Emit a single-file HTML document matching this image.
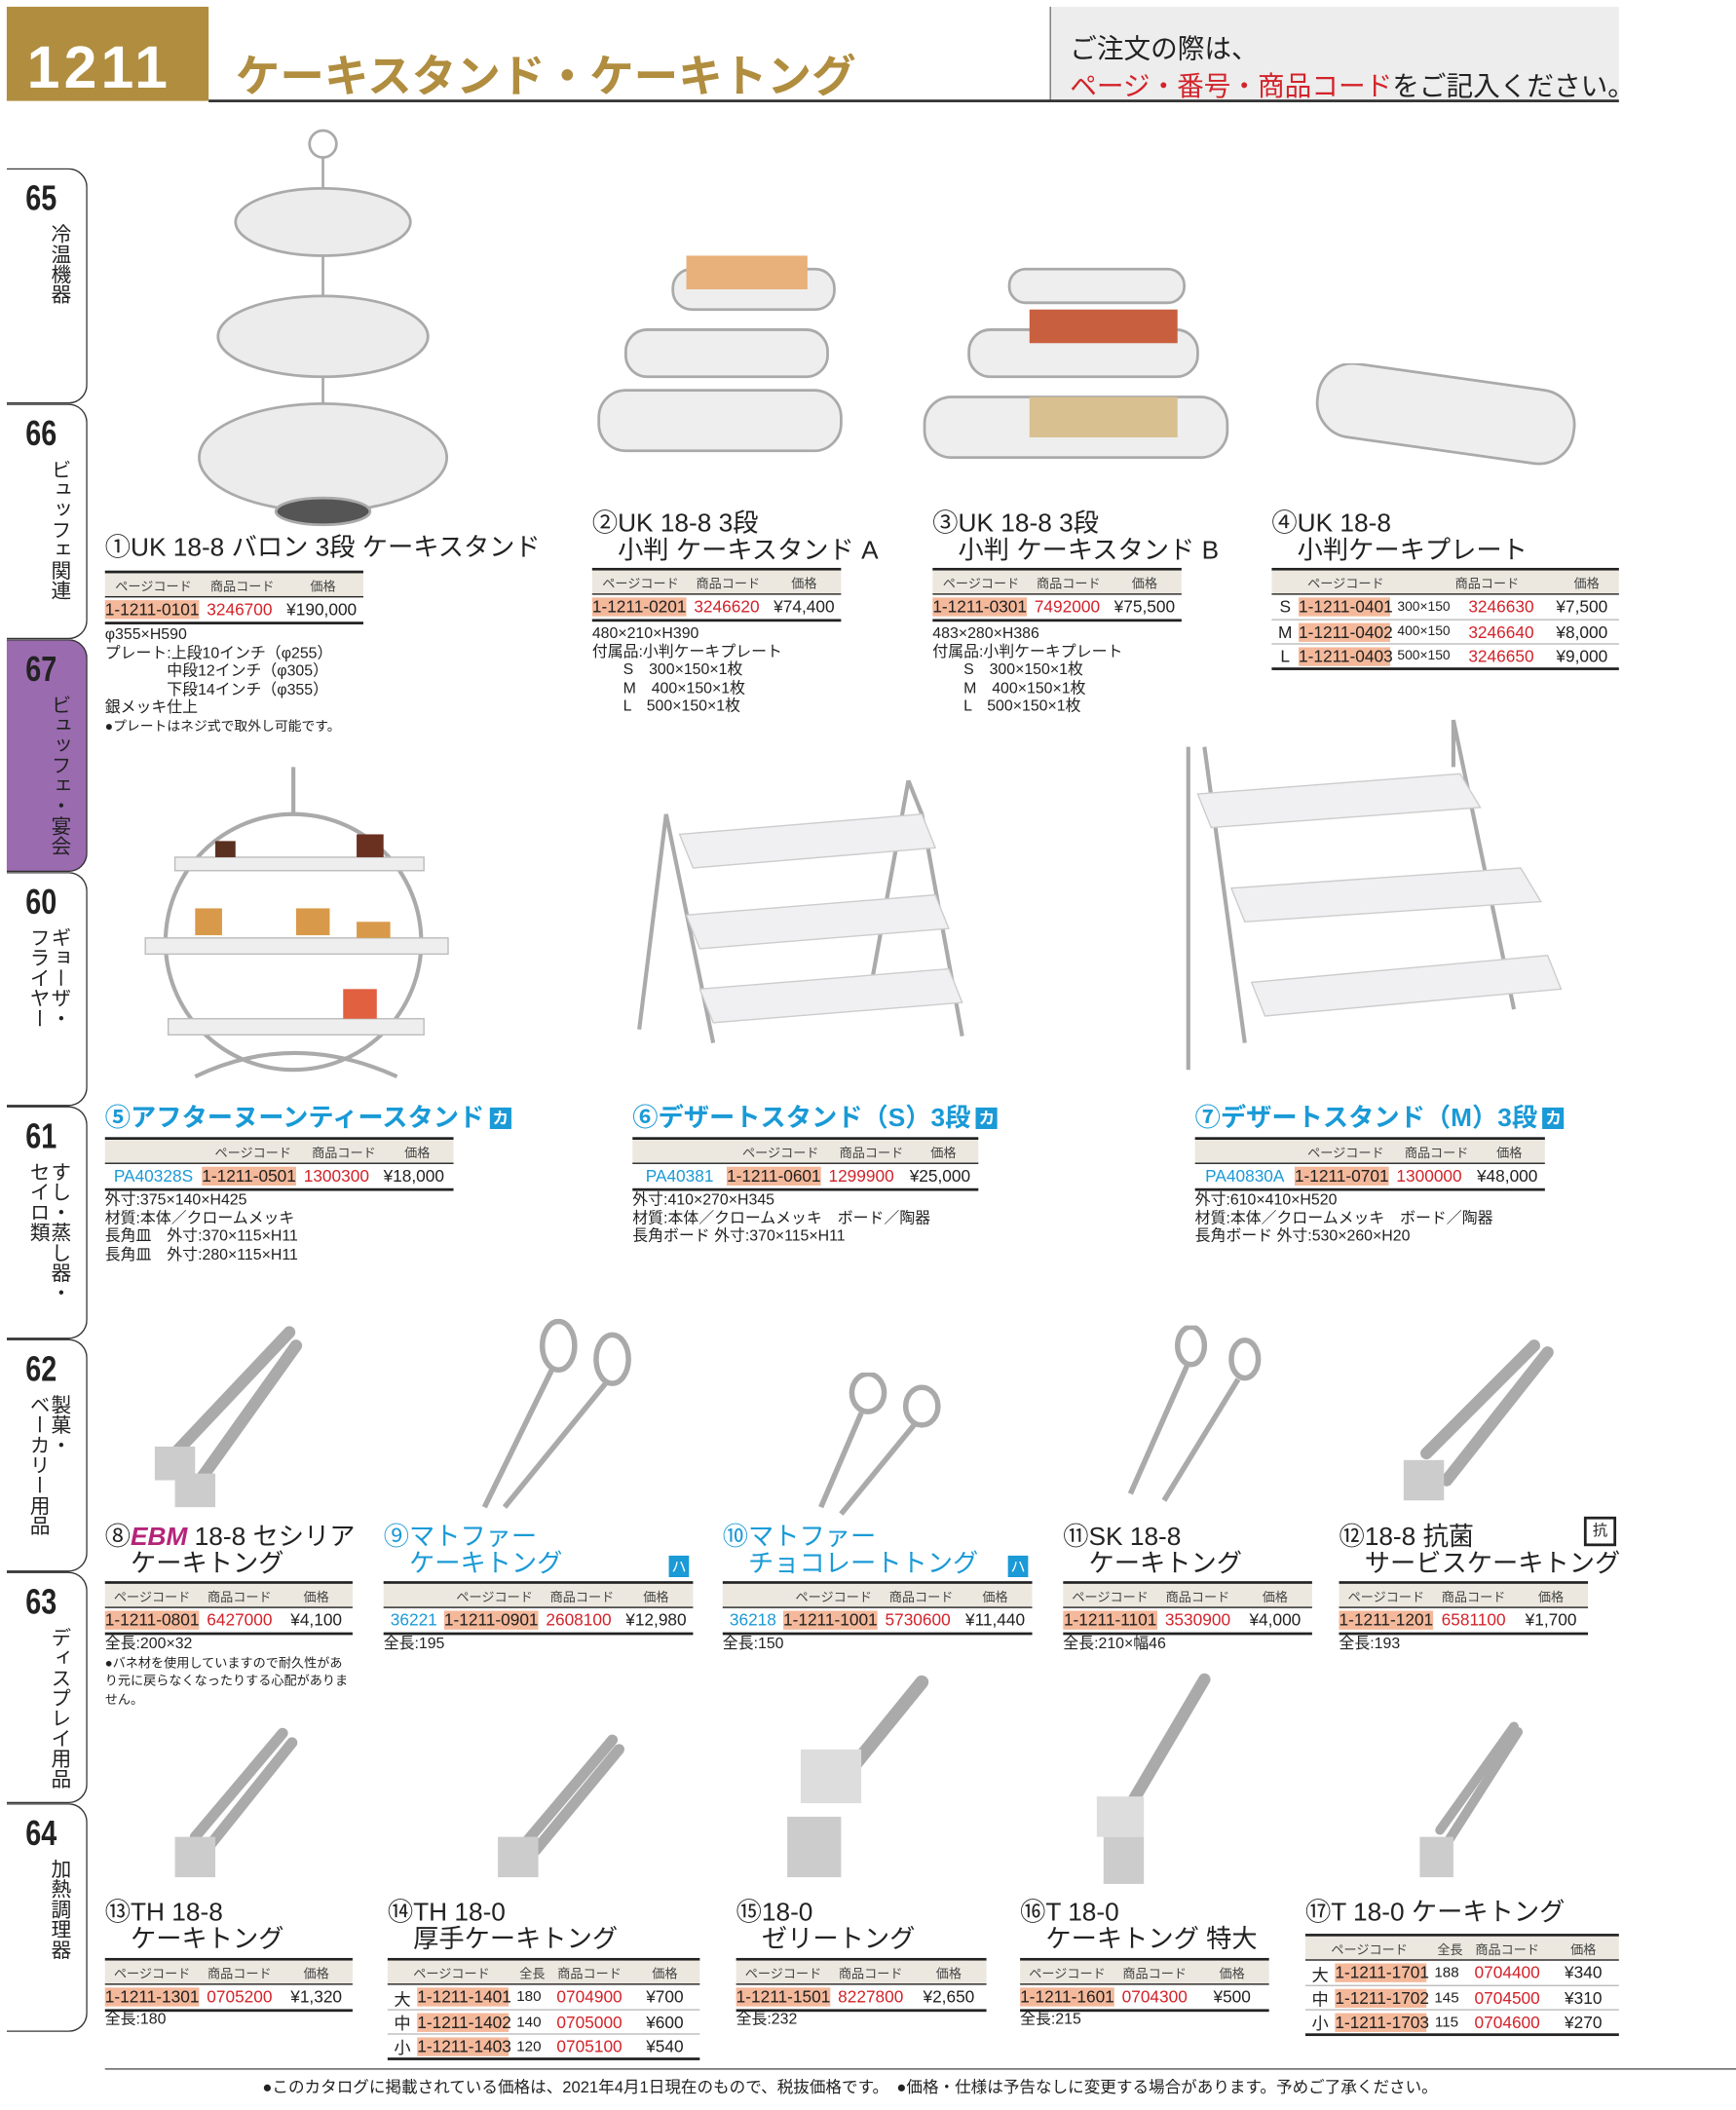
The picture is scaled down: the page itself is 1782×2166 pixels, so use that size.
<!DOCTYPE html>
<html><head><meta charset="utf-8">
<style>
*{margin:0;padding:0;box-sizing:border-box}
html,body{width:1782px;height:2166px;overflow:hidden;background:#fff}
#w{position:absolute;left:0;top:0;width:1290px;height:1568px;transform:scale(1.3814);transform-origin:0 0;font-family:"Liberation Sans","Noto Sans CJK JP",sans-serif;color:#222}
.a{position:absolute;white-space:nowrap}
.tab{position:absolute;left:5px;width:60px;border:1.5px solid #333;border-left:none;border-radius:0 14px 14px 0;background:#fff}
.tab b{position:absolute;left:14px;top:6px;font-size:26px;font-weight:bold;transform:scaleX(.8);transform-origin:0 0}
.tab i{position:absolute;right:12px;top:40px;font-style:normal;font-size:15px;writing-mode:vertical-rl;line-height:1.05;white-space:nowrap}
.tt{position:absolute;font-size:19px;white-space:nowrap;line-height:20px}
.bl{color:#1a9ad6;font-weight:bold}
.tb{position:absolute;border-top:2px solid #222;border-bottom:2px solid #222;font-size:12.5px}
.hd{background:#ece8df;height:18px;display:flex;font-size:9.5px;color:#444;align-items:center;border-bottom:1.5px solid #222}
.rw{height:18px;display:flex;align-items:center;white-space:nowrap}
.rw+.rw{border-top:1px solid #bbb}
.rw span,.hd span{display:block;text-align:center}
.pc{background:#f4b89a}
.red{color:#d2232a}
.blu{color:#1a9ad6}
.sp{position:absolute;font-size:11.5px;line-height:13.5px;white-space:pre}
.ka{display:inline-block;background:#1a9ad6;color:#fff;font-size:12px;padding:0 2px;line-height:16px;vertical-align:2px;margin-left:4px}
svg{position:absolute}
</style></head><body><div id="w">

<div class="a" style="left:5px;top:5px;width:150px;height:70px;background:#b08d3f"></div>
<div class="a" style="left:20px;top:26px;font-size:44px;font-weight:bold;color:#fff;letter-spacing:3px">1211</div>
<div class="a" style="left:175px;top:30px;font-size:33px;font-weight:bold;color:#b08d3f">ケーキスタンド・ケーキトング</div>
<div class="a" style="left:780px;top:5px;width:423px;height:70px;background:#ededed;border-left:1px solid #777"></div>
<div class="a" style="left:795px;top:20px;font-size:20px">ご注文の際は、</div>
<div class="a" style="left:795px;top:48px;font-size:20px"><span class="red">ページ・番号・商品コード</span>をご記入ください。</div>
<div class="a" style="left:155px;top:74px;width:1048px;height:2px;background:#333"></div>

<div class="tab" style="top:125px;height:175px"><b>65</b><i>冷温機器</i></div>
<div class="tab" style="top:300px;height:175px"><b>66</b><i>ビュッフェ関連</i></div>
<div class="tab" style="top:475px;height:173px;background:#9b6bb0"><b>67</b><i>ビュッフェ・宴会</i></div>
<div class="tab" style="top:648px;height:174px"><b>60</b><i>ギョーザ・<br>フライヤー</i></div>
<div class="tab" style="top:822px;height:173px"><b>61</b><i>すし・蒸し器・<br>セイロ類</i></div>
<div class="tab" style="top:995px;height:173px"><b>62</b><i>製菓・<br>ベーカリー用品</i></div>
<div class="tab" style="top:1168px;height:172px"><b>63</b><i>ディスプレイ用品</i></div>
<div class="tab" style="top:1340px;height:170px"><b>64</b><i>加熱調理器</i></div>

<!-- images row1 -->
<svg style="left:140px;top:95px" width="200" height="300"><g fill="#ececec" stroke="#aaa" stroke-width="2"><circle cx="100" cy="12" r="10" fill="none"/><line x1="100" y1="22" x2="100" y2="280"/><ellipse cx="100" cy="70" rx="65" ry="25"/><ellipse cx="100" cy="155" rx="78" ry="30"/><ellipse cx="100" cy="245" rx="92" ry="40"/><ellipse cx="100" cy="285" rx="35" ry="10" fill="#555"/></g></svg>
<svg style="left:440px;top:150px" width="190" height="215"><g fill="#eee" stroke="#aaa" stroke-width="2"><rect x="60" y="50" width="120" height="30" rx="14"/><rect x="25" y="95" width="150" height="35" rx="16"/><rect x="5" y="140" width="180" height="45" rx="20"/><rect x="70" y="40" width="90" height="25" fill="#e8b07a" stroke="none"/></g></svg>
<svg style="left:685px;top:150px" width="230" height="215"><g fill="#eee" stroke="#aaa" stroke-width="2"><rect x="65" y="50" width="130" height="25" rx="12"/><rect x="35" y="95" width="170" height="35" rx="16"/><rect x="2" y="145" width="225" height="45" rx="20"/><rect x="80" y="80" width="110" height="25" fill="#c86040" stroke="none"/><rect x="80" y="145" width="110" height="30" fill="#d8c090" stroke="none"/></g></svg>
<svg style="left:975px;top:270px" width="200" height="95"><rect x="3" y="10" width="192" height="55" rx="26" fill="#eee" stroke="#aaa" stroke-width="2" transform="rotate(8 100 40)"/></svg>

<div class="tt" style="left:78px;top:398px">①UK 18-8 バロン 3段 ケーキスタンド</div>
<div class="tb" style="left:78px;top:424px;width:192px"><div class="hd"><span style="width:72px">ページコード</span><span style="width:60px">商品コード</span><span style="width:60px">価格</span></div><div class="rw"><span class="pc" style="width:70px">1-1211-0101</span><span class="red" style="width:60px">3246700</span><span style="width:62px">¥190,000</span></div></div>
<div class="sp" style="left:78px;top:466px">φ355×H590
プレート:上段10インチ（φ255）
　　　　中段12インチ（φ305）
　　　　下段14インチ（φ355）
銀メッキ仕上
<span style="font-size:10px">●プレートはネジ式で取外し可能です。</span></div>

<div class="tt" style="left:440px;top:380px">②UK 18-8 3段<br>　小判 ケーキスタンド A</div>
<div class="tb" style="left:440px;top:422px;width:185px"><div class="hd"><span style="width:72px">ページコード</span><span style="width:58px">商品コード</span><span style="width:55px">価格</span></div><div class="rw"><span class="pc" style="width:70px">1-1211-0201</span><span class="red" style="width:60px">3246620</span><span style="width:55px">¥74,400</span></div></div>
<div class="sp" style="left:440px;top:465px">480×210×H390
付属品:小判ケーキプレート
　　S　300×150×1枚
　　M　400×150×1枚
　　L　500×150×1枚</div>

<div class="tt" style="left:693px;top:380px">③UK 18-8 3段<br>　小判 ケーキスタンド B</div>
<div class="tb" style="left:693px;top:422px;width:185px"><div class="hd"><span style="width:72px">ページコード</span><span style="width:58px">商品コード</span><span style="width:55px">価格</span></div><div class="rw"><span class="pc" style="width:70px">1-1211-0301</span><span class="red" style="width:60px">7492000</span><span style="width:55px">¥75,500</span></div></div>
<div class="sp" style="left:693px;top:465px">483×280×H386
付属品:小判ケーキプレート
　　S　300×150×1枚
　　M　400×150×1枚
　　L　500×150×1枚</div>

<div class="tt" style="left:945px;top:380px">④UK 18-8<br>　小判ケーキプレート</div>
<div class="tb" style="left:945px;top:422px;width:258px"><div class="hd"><span style="width:110px">ページコード</span><span style="width:100px">商品コード</span><span style="width:48px">価格</span></div>
<div class="rw"><span style="width:20px">S</span><span class="pc" style="width:68px">1-1211-0401</span><span style="width:50px;font-size:10px">300×150</span><span class="red" style="width:65px">3246630</span><span style="width:55px">¥7,500</span></div>
<div class="rw"><span style="width:20px">M</span><span class="pc" style="width:68px">1-1211-0402</span><span style="width:50px;font-size:10px">400×150</span><span class="red" style="width:65px">3246640</span><span style="width:55px">¥8,000</span></div>
<div class="rw"><span style="width:20px">L</span><span class="pc" style="width:68px">1-1211-0403</span><span style="width:50px;font-size:10px">500×150</span><span class="red" style="width:65px">3246650</span><span style="width:55px">¥9,000</span></div></div>

<!-- row2 images -->
<svg style="left:105px;top:565px" width="230" height="245"><g fill="none" stroke="#aaa" stroke-width="3"><circle cx="113" cy="135" r="95"/><path d="M113 5 V40"/><path d="M40 235 Q113 200 190 235"/></g><g fill="#eee" stroke="#bbb"><rect x="25" y="72" width="185" height="10"/><rect x="3" y="132" width="225" height="12"/><rect x="20" y="192" width="190" height="12"/></g><g fill="#d89a4a"><rect x="40" y="110" width="20" height="20"/><rect x="115" y="110" width="25" height="20"/><rect x="160" y="120" width="25" height="12"/><rect x="55" y="60" width="15" height="12" fill="#5a3020"/><rect x="160" y="55" width="20" height="17" fill="#6a3020"/><rect x="150" y="170" width="25" height="22" fill="#e06040"/></g></svg>
<svg style="left:470px;top:575px" width="255" height="230"><g fill="none" stroke="#aaa" stroke-width="3"><path d="M25 30 L5 190 M25 30 L60 200 M205 5 L215 30 L245 195 M205 5 L175 170"/></g><g fill="#f0f0f2" stroke="#ccc"><path d="M35 45 L215 30 L225 55 L45 70Z"/><path d="M40 105 L225 90 L235 115 L50 130Z"/><path d="M50 160 L235 145 L245 170 L60 185Z"/></g></svg>
<svg style="left:875px;top:530px" width="290" height="280"><g fill="none" stroke="#aaa" stroke-width="3"><path d="M8 25 V265 M20 25 L50 245 M205 5 L250 220 M205 5 V40"/></g><g fill="#f0f0f2" stroke="#ccc"><path d="M15 60 L210 45 L225 70 L25 85Z"/><path d="M40 130 L255 115 L270 140 L50 155Z"/><path d="M55 200 L275 180 L285 205 L65 225Z"/></g></svg>

<div class="tt bl" style="left:78px;top:822px">⑤アフターヌーンティースタンド<span class="ka">カ</span></div>
<div class="tb" style="left:78px;top:845px;width:259px"><div class="hd"><span style="width:70px"></span><span style="width:80px">ページコード</span><span style="width:55px">商品コード</span><span style="width:54px">価格</span></div><div class="rw"><span class="blu" style="width:72px">PA40328S</span><span class="pc" style="width:70px">1-1211-0501</span><span class="red" style="width:60px">1300300</span><span style="width:55px">¥18,000</span></div></div>
<div class="sp" style="left:78px;top:886px">外寸:375×140×H425
材質:本体／クロームメッキ
長角皿　外寸:370×115×H11
長角皿　外寸:280×115×H11</div>

<div class="tt bl" style="left:470px;top:822px">⑥デザートスタンド（S）3段<span class="ka">カ</span></div>
<div class="tb" style="left:470px;top:845px;width:257px"><div class="hd"><span style="width:70px"></span><span style="width:80px">ページコード</span><span style="width:55px">商品コード</span><span style="width:52px">価格</span></div><div class="rw"><span class="blu" style="width:70px">PA40381</span><span class="pc" style="width:70px">1-1211-0601</span><span class="red" style="width:60px">1299900</span><span style="width:57px">¥25,000</span></div></div>
<div class="sp" style="left:470px;top:886px">外寸:410×270×H345
材質:本体／クロームメッキ　ボード／陶器
長角ボード 外寸:370×115×H11</div>

<div class="tt bl" style="left:888px;top:822px">⑦デザートスタンド（M）3段<span class="ka">カ</span></div>
<div class="tb" style="left:888px;top:845px;width:260px"><div class="hd"><span style="width:72px"></span><span style="width:80px">ページコード</span><span style="width:55px">商品コード</span><span style="width:53px">価格</span></div><div class="rw"><span class="blu" style="width:74px">PA40830A</span><span class="pc" style="width:70px">1-1211-0701</span><span class="red" style="width:60px">1300000</span><span style="width:56px">¥48,000</span></div></div>
<div class="sp" style="left:888px;top:886px">外寸:610×410×H520
材質:本体／クロームメッキ　ボード／陶器
長角ボード 外寸:530×260×H20</div>

<!-- tongs row3 -->
<svg style="left:110px;top:980px" width="125" height="150"><g stroke="#aaa" stroke-width="9" stroke-linecap="round"><line x1="105" y1="10" x2="20" y2="100"/><line x1="110" y1="20" x2="35" y2="125"/></g><rect x="5" y="95" width="30" height="25" fill="#ccc"/><rect x="20" y="115" width="30" height="25" fill="#ccc"/></svg>
<svg style="left:320px;top:980px" width="160" height="150"><g fill="none" stroke="#aaa" stroke-width="4"><ellipse cx="95" cy="20" rx="12" ry="18"/><ellipse cx="135" cy="30" rx="12" ry="18"/><path d="M90 38 L40 140 M130 48 L55 140"/></g></svg>
<svg style="left:600px;top:1020px" width="110" height="110"><g fill="none" stroke="#aaa" stroke-width="4"><ellipse cx="45" cy="15" rx="12" ry="14"/><ellipse cx="85" cy="25" rx="12" ry="14"/><path d="M40 30 L10 100 M80 38 L25 105"/></g></svg>
<svg style="left:825px;top:985px" width="120" height="145"><g fill="none" stroke="#aaa" stroke-width="4"><ellipse cx="60" cy="15" rx="10" ry="14"/><ellipse cx="100" cy="25" rx="10" ry="14"/><path d="M57 30 L15 125 M95 40 L40 130"/></g></svg>
<svg style="left:1035px;top:990px" width="125" height="135"><g stroke="#aaa" stroke-width="9" stroke-linecap="round"><line x1="105" y1="10" x2="25" y2="90"/><line x1="115" y1="15" x2="40" y2="110"/></g><rect x="8" y="95" width="30" height="30" fill="#ccc"/></svg>

<div class="tt" style="left:78px;top:1133px">⑧<i style="color:#b5247a;font-weight:bold">EBM</i> 18-8 セシリア<br>　ケーキトング</div>
<div class="tt" style="left:285px;top:1133px;color:#1a9ad6">⑨マトファー<br>　ケーキトング</div><div class="a" style="left:497px;top:1156px;background:#1a9ad6;color:#fff;font-size:11px;padding:0 2px">ハ</div>
<div class="tt" style="left:537px;top:1133px;color:#1a9ad6">⑩マトファー<br>　チョコレートトング</div><div class="a" style="left:749px;top:1156px;background:#1a9ad6;color:#fff;font-size:11px;padding:0 2px">ハ</div>
<div class="tt" style="left:790px;top:1133px">⑪SK 18-8<br>　ケーキトング</div>
<div class="tt" style="left:995px;top:1133px">⑫18-8 抗菌<br>　サービスケーキトング</div>
<div class="a" style="left:1177px;top:1127px;width:24px;height:22px;border:2px solid #222;font-size:11px;text-align:center">抗</div>

<div class="tb" style="left:78px;top:1175px;width:184px"><div class="hd"><span style="width:70px">ページコード</span><span style="width:60px">商品コード</span><span style="width:54px">価格</span></div><div class="rw"><span class="pc" style="width:70px">1-1211-0801</span><span class="red" style="width:60px">6427000</span><span style="width:54px">¥4,100</span></div></div>
<div class="sp" style="left:78px;top:1216px">全長:200×32
<span style="font-size:9.5px;line-height:12px">●バネ材を使用していますので耐久性があ
り元に戻らなくなったりする心配がありま
せん。</span></div>
<div class="tb" style="left:285px;top:1175px;width:230px"><div class="hd"><span style="width:45px"></span><span style="width:75px">ページコード</span><span style="width:55px">商品コード</span><span style="width:55px">価格</span></div><div class="rw"><span class="blu" style="width:45px">36221</span><span class="pc" style="width:70px">1-1211-0901</span><span class="red" style="width:60px">2608100</span><span style="width:55px">¥12,980</span></div></div>
<div class="sp" style="left:285px;top:1216px">全長:195</div>
<div class="tb" style="left:537px;top:1175px;width:230px"><div class="hd"><span style="width:45px"></span><span style="width:75px">ページコード</span><span style="width:55px">商品コード</span><span style="width:55px">価格</span></div><div class="rw"><span class="blu" style="width:45px">36218</span><span class="pc" style="width:70px">1-1211-1001</span><span class="red" style="width:60px">5730600</span><span style="width:55px">¥11,440</span></div></div>
<div class="sp" style="left:537px;top:1216px">全長:150</div>
<div class="tb" style="left:790px;top:1175px;width:185px"><div class="hd"><span style="width:70px">ページコード</span><span style="width:60px">商品コード</span><span style="width:55px">価格</span></div><div class="rw"><span class="pc" style="width:70px">1-1211-1101</span><span class="red" style="width:60px">3530900</span><span style="width:55px">¥4,000</span></div></div>
<div class="sp" style="left:790px;top:1216px">全長:210×幅46</div>
<div class="tb" style="left:995px;top:1175px;width:185px"><div class="hd"><span style="width:70px">ページコード</span><span style="width:60px">商品コード</span><span style="width:55px">価格</span></div><div class="rw"><span class="pc" style="width:70px">1-1211-1201</span><span class="red" style="width:60px">6581100</span><span style="width:55px">¥1,700</span></div></div>
<div class="sp" style="left:995px;top:1216px">全長:193</div>

<!-- row4 tongs -->
<svg style="left:115px;top:1280px" width="110" height="125"><g stroke="#aaa" stroke-width="8" stroke-linecap="round"><line x1="95" y1="8" x2="30" y2="85"/><line x1="102" y1="15" x2="38" y2="95"/></g><rect x="15" y="85" width="30" height="30" fill="#ccc"/></svg>
<svg style="left:360px;top:1285px" width="110" height="120"><g stroke="#aaa" stroke-width="8" stroke-linecap="round"><line x1="95" y1="8" x2="30" y2="85"/><line x1="100" y1="15" x2="38" y2="90"/></g><rect x="10" y="80" width="30" height="30" fill="#ccc"/></svg>
<svg style="left:580px;top:1240px" width="120" height="165"><g stroke="#aaa" stroke-width="10" stroke-linecap="round"><line x1="105" y1="10" x2="40" y2="90"/></g><rect x="15" y="60" width="45" height="40" fill="#ddd"/><rect x="5" y="110" width="40" height="45" fill="#ccc"/></svg>
<svg style="left:800px;top:1240px" width="110" height="165"><g stroke="#aaa" stroke-width="9" stroke-linecap="round"><line x1="95" y1="8" x2="35" y2="110"/></g><rect x="15" y="95" width="35" height="30" fill="#ddd"/><rect x="20" y="125" width="30" height="35" fill="#ccc"/></svg>
<svg style="left:1040px;top:1275px" width="95" height="130"><g stroke="#aaa" stroke-width="7" stroke-linecap="round"><line x1="85" y1="8" x2="30" y2="85"/><line x1="88" y1="12" x2="35" y2="95"/></g><rect x="15" y="90" width="25" height="30" fill="#ccc"/></svg>

<div class="tt" style="left:78px;top:1412px">⑬TH 18-8<br>　ケーキトング</div>
<div class="tt" style="left:288px;top:1412px">⑭TH 18-0<br>　厚手ケーキトング</div>
<div class="tt" style="left:547px;top:1412px">⑮18-0<br>　ゼリートング</div>
<div class="tt" style="left:758px;top:1412px">⑯T 18-0<br>　ケーキトング 特大</div>
<div class="tt" style="left:970px;top:1412px">⑰T 18-0 ケーキトング</div>

<div class="tb" style="left:78px;top:1455px;width:184px"><div class="hd"><span style="width:70px">ページコード</span><span style="width:60px">商品コード</span><span style="width:54px">価格</span></div><div class="rw"><span class="pc" style="width:70px">1-1211-1301</span><span class="red" style="width:60px">0705200</span><span style="width:54px">¥1,320</span></div></div>
<div class="sp" style="left:78px;top:1495px">全長:180</div>

<div class="tb" style="left:288px;top:1455px;width:232px"><div class="hd"><span style="width:95px">ページコード</span><span style="width:25px">全長</span><span style="width:60px">商品コード</span><span style="width:52px">価格</span></div>
<div class="rw"><span style="width:22px">大</span><span class="pc" style="width:68px">1-1211-1401</span><span style="width:30px;font-size:11px">180</span><span class="red" style="width:60px">0704900</span><span style="width:52px">¥700</span></div>
<div class="rw"><span style="width:22px">中</span><span class="pc" style="width:68px">1-1211-1402</span><span style="width:30px;font-size:11px">140</span><span class="red" style="width:60px">0705000</span><span style="width:52px">¥600</span></div>
<div class="rw"><span style="width:22px">小</span><span class="pc" style="width:68px">1-1211-1403</span><span style="width:30px;font-size:11px">120</span><span class="red" style="width:60px">0705100</span><span style="width:52px">¥540</span></div></div>

<div class="tb" style="left:547px;top:1455px;width:186px"><div class="hd"><span style="width:70px">ページコード</span><span style="width:60px">商品コード</span><span style="width:56px">価格</span></div><div class="rw"><span class="pc" style="width:70px">1-1211-1501</span><span class="red" style="width:60px">8227800</span><span style="width:56px">¥2,650</span></div></div>
<div class="sp" style="left:547px;top:1495px">全長:232</div>
<div class="tb" style="left:758px;top:1455px;width:185px"><div class="hd"><span style="width:70px">ページコード</span><span style="width:60px">商品コード</span><span style="width:55px">価格</span></div><div class="rw"><span class="pc" style="width:70px">1-1211-1601</span><span class="red" style="width:60px">0704300</span><span style="width:55px">¥500</span></div></div>
<div class="sp" style="left:758px;top:1495px">全長:215</div>

<div class="tb" style="left:970px;top:1437px;width:233px"><div class="hd"><span style="width:95px">ページコード</span><span style="width:25px">全長</span><span style="width:60px">商品コード</span><span style="width:53px">価格</span></div>
<div class="rw"><span style="width:22px">大</span><span class="pc" style="width:68px">1-1211-1701</span><span style="width:30px;font-size:11px">188</span><span class="red" style="width:60px">0704400</span><span style="width:53px">¥340</span></div>
<div class="rw"><span style="width:22px">中</span><span class="pc" style="width:68px">1-1211-1702</span><span style="width:30px;font-size:11px">145</span><span class="red" style="width:60px">0704500</span><span style="width:53px">¥310</span></div>
<div class="rw"><span style="width:22px">小</span><span class="pc" style="width:68px">1-1211-1703</span><span style="width:30px;font-size:11px">115</span><span class="red" style="width:60px">0704600</span><span style="width:53px">¥270</span></div></div>

<div class="a" style="left:78px;top:1537px;width:1212px;height:1px;background:#555"></div>
<div class="a" style="left:195px;top:1542px;font-size:12px">●このカタログに掲載されている価格は、2021年4月1日現在のもので、税抜価格です。　●価格・仕様は予告なしに変更する場合があります。予めご了承ください。</div>
</div></body></html>
